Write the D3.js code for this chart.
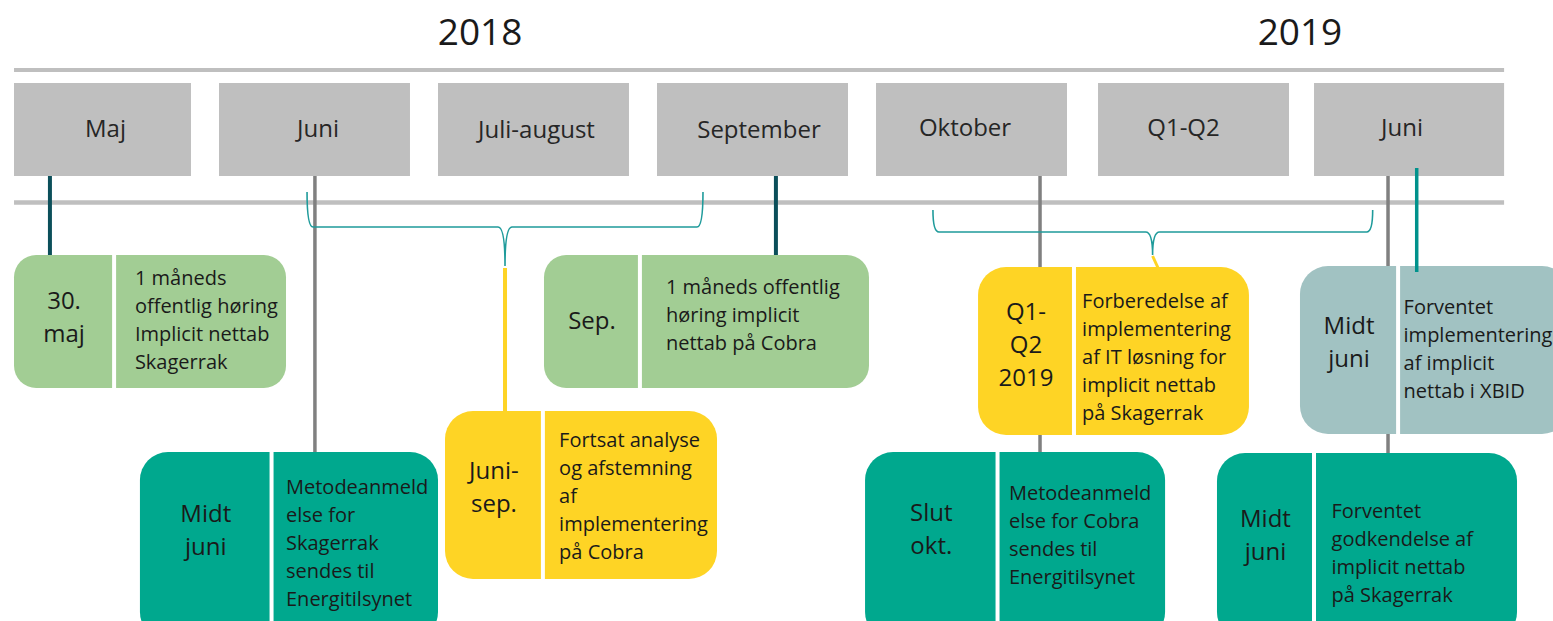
<!DOCTYPE html>
<html>
<head>
<meta charset="utf-8">
<script src="https://cdn.jsdelivr.net/npm/d3@7"></script>
<style>
  html, body { margin: 0; padding: 0; background: #ffffff; }
  svg { display: block; font-family: "Open Sans", "Noto Sans", sans-serif; }
</style>
</head>
<body>
<svg id="chart" width="1553" height="621"></svg>
<script>
// ---------- DATA ----------
const years = ["2018", "2019"];
const yearAt = [2.192, 5.936];                 // timeline position (column units)
const periods = ["Maj", "Juni", "Juli-august", "September", "Oktober", "Q1-Q2", "Juni"];

const eventDates = [
  ["30.", "maj"],
  ["Midt", "juni"],
  ["Juni-", "sep."],
  ["Sep."],
  ["Q1-", "Q2", "2019"],
  ["Midt", "juni"],
  ["Slut", "okt."],
  ["Midt", "juni"]
];
const eventTexts = [
  ["1 måneds", "offentlig høring", "Implicit nettab", "Skagerrak"],
  ["Metodeanmeld", "else for", "Skagerrak", "sendes til", "Energitilsynet"],
  ["Fortsat analyse", "og afstemning", "af", "implementering", "på Cobra"],
  ["1 måneds offentlig", "høring implicit", "nettab på Cobra"],
  ["Forberedelse af", "implementering", "af IT løsning for", "implicit nettab", "på Skagerrak"],
  ["Forventet", "implementering", "af implicit", "nettab i XBID"],
  ["Metodeanmeld", "else for Cobra", "sendes til", "Energitilsynet"],
  ["Forventet", "godkendelse af", "implicit nettab", "på Skagerrak"]
];
const eventKinds = ["consultation", "notification", "analysis", "consultation",
                    "preparation", "implementation", "notification", "approval"];

// connector positions on the timeline (column units)
const connectorAt = [0.228, 1.438, 3.543, 4.749, 6.338, 6.469];
const connectorKind = ["milestone", "period", "milestone", "period", "period", "xbid"];
// braces spanning periods (column units)
const braceFrom = [1.402, 4.260];
const braceTo   = [3.210, 6.268];
const braceMid  = [2.306, 5.263];

// ---------- LAYOUT / STYLE ----------
const colors = {
  consultation: "#a2cd94", notification: "#00a88e", analysis: "#fed425",
  preparation: "#fed425", implementation: "#a1c2c2", approval: "#00a88e"
};
const connColors = { milestone: "#0b4f5a", period: "#808080", xbid: "#00928c" };
const connY = [[176, 255], [176, 452], [176, 255], [176, 452], [176, 453], [168, 272]];
const connW = [4, 3.5, 4, 3.5, 3.5, 3.5];
const braceY = [[192, 227, 266], [210, 232, 255]];
const linkY = [[268, 411], [256, 268]];
const linkDx = [0, 0.025];
const hdrShift = [10, 3.5, 3, 6.5, -6.5, -7, -7.5];
const hdrBase = [137, 137, 138, 138, 136, 136, 136];
const hdrBoxShift = [0, 0, 0, 0, 0, 3, 0];

const boxLayout = [
  {x0: 0.064, x1: 1.306, div: 0.521, tx: 0.616, y0: 255, y1: 388, lb: 309, rb: 285},
  {x0: 0.639, x1: 2.000, div: 1.240, tx: 1.306, y0: 452, y1: 640, lb: 522, rb: 494},
  {x0: 2.032, x1: 3.274, div: 2.479, tx: 2.553, y0: 411, y1: 579, lb: 479, rb: 447},
  {x0: 2.484, x1: 3.968, div: 2.922, tx: 3.041, y0: 255, y1: 388, lb: 329, rb: 294},
  {x0: 4.466, x1: 5.703, div: 4.904, tx: 4.941, y0: 267, y1: 435, lb: 320, rb: 308},
  {x0: 5.936, x1: 7.169, div: 6.384, tx: 6.409, y0: 266, y1: 434, lb: 334, rb: 314},
  {x0: 3.950, x1: 5.320, div: 4.555, tx: 4.607, y0: 452, y1: 640, lb: 521, rb: 500},
  {x0: 5.557, x1: 6.927, div: 6.000, tx: 6.080, y0: 453, y1: 640, lb: 527, rb: 518}
];

// ---------- SCALES ----------
const svg = d3.select("#chart");
const x = d3.scaleLinear().domain([0, 7]).range([0, 1533]);
const band = d3.scaleBand().domain(d3.range(periods.length)).range([0, 1505])
  .paddingInner(0.128).paddingOuter(0);
const lineStart = x(0.064), lineEnd = x(6.868);

// ---------- YEARS ----------
svg.selectAll("text.year").data(years).join("text")
  .attr("class", "year")
  .attr("x", (d, i) => x(yearAt[i])).attr("y", 45)
  .attr("text-anchor", "middle")
  .attr("font-size", 37).attr("fill", "#1a1a1a")
  .text(d => d);

// ---------- TIMELINE BARS ----------
svg.selectAll("line.rule").data([70, 202.5]).join("line")
  .attr("class", "rule")
  .attr("x1", lineStart).attr("x2", lineEnd)
  .attr("y1", d => d).attr("y2", d => d)
  .attr("stroke", "#bfbfbf").attr("stroke-width", d => d === 70 ? 4 : 4.5);

// ---------- HEADER BOXES ----------
const hx0 = i => Math.max(band(i), lineStart) + hdrBoxShift[i];
const hx1 = i => Math.min(band(i) + band.bandwidth() + hdrBoxShift[i], lineEnd);
const hdr = svg.selectAll("g.hdr").data(periods).join("g").attr("class", "hdr");
hdr.append("rect")
  .attr("x", (d, i) => hx0(i))
  .attr("width", (d, i) => hx1(i) - hx0(i))
  .attr("y", 83).attr("height", 93)
  .attr("fill", "#bfbfbf");
hdr.append("text")
  .attr("x", (d, i) => (band(i) + band(i) + band.bandwidth()) / 2 + hdrShift[i])
  .attr("y", (d, i) => hdrBase[i])
  .attr("text-anchor", "middle")
  .attr("font-size", 24).attr("fill", "#262626")
  .text(d => d);

// ---------- CONNECTORS (behind boxes) ----------
svg.selectAll("line.conn").data(connectorAt.slice(0, 5)).join("line")
  .attr("class", "conn")
  .attr("x1", d => x(d)).attr("x2", d => x(d))
  .attr("y1", (d, i) => connY[i][0]).attr("y2", (d, i) => connY[i][1])
  .attr("stroke", (d, i) => connColors[connectorKind[i]])
  .attr("stroke-width", (d, i) => connW[i]);

// ---------- BRACES ----------
function bracePath(i) {
  const x0 = x(braceFrom[i]), x1 = x(braceTo[i]), xm = x(braceMid[i]);
  const [yt, yh, yc] = braceY[i];
  const r = 6, c = 7;
  return `M${x0},${yt} Q${x0},${yh} ${x0 + r},${yh} L${xm - c},${yh} ` +
         `Q${xm},${yh} ${xm},${yc} Q${xm},${yh} ${xm + c},${yh} ` +
         `L${x1 - r},${yh} Q${x1},${yh} ${x1},${yt}`;
}
svg.selectAll("path.brace").data(braceFrom).join("path")
  .attr("class", "brace")
  .attr("d", (d, i) => bracePath(i))
  .attr("fill", "none").attr("stroke", "#1f9b9b").attr("stroke-width", 1.6);

// yellow links from brace cusps
svg.selectAll("line.link").data(braceMid).join("line")
  .attr("class", "link")
  .attr("x1", d => x(d)).attr("x2", (d, i) => x(d + linkDx[i]))
  .attr("y1", (d, i) => linkY[i][0]).attr("y2", (d, i) => linkY[i][1])
  .attr("stroke", "#fed425").attr("stroke-width", (d, i) => i === 0 ? 4 : 3);

// ---------- EVENT BOXES ----------
const ev = svg.selectAll("g.ev").data(eventDates).join("g").attr("class", "ev");
ev.each(function (d, i) {
  const g = d3.select(this);
  const L = boxLayout[i];
  const bx0 = x(L.x0), bx1 = x(L.x1), dv = x(L.div);
  const w = bx1 - bx0, h = L.y1 - L.y0;
  const r = Math.min(w, Math.min(h, 168)) / 6;
  g.append("rect")
    .attr("x", bx0).attr("y", L.y0).attr("width", w).attr("height", h)
    .attr("rx", r).attr("ry", r)
    .attr("fill", colors[eventKinds[i]]);
  g.append("line")
    .attr("x1", dv).attr("x2", dv).attr("y1", L.y0).attr("y2", L.y1)
    .attr("stroke", "#ffffff").attr("stroke-width", 4);
  g.selectAll("text.date").data(d).join("text")
    .attr("class", "date")
    .attr("x", (bx0 + dv) / 2)
    .attr("y", (t, k) => L.lb + k * 33)
    .attr("text-anchor", "middle")
    .attr("font-size", 24).attr("fill", "#1a1a1a")
    .text(t => t);
  g.selectAll("text.desc").data(eventTexts[i]).join("text")
    .attr("class", "desc")
    .attr("x", x(L.tx))
    .attr("y", (t, k) => L.rb + k * 28)
    .attr("font-size", 20).attr("fill", "#1a1a1a")
    .text(t => t);
});

// ---------- XBID connector (drawn over box) ----------
svg.selectAll("line.conn2").data(connectorAt.slice(5)).join("line")
  .attr("class", "conn2")
  .attr("x1", d => x(d)).attr("x2", d => x(d))
  .attr("y1", connY[5][0]).attr("y2", connY[5][1])
  .attr("stroke", connColors[connectorKind[5]])
  .attr("stroke-width", connW[5]);
</script>
</body>
</html>
